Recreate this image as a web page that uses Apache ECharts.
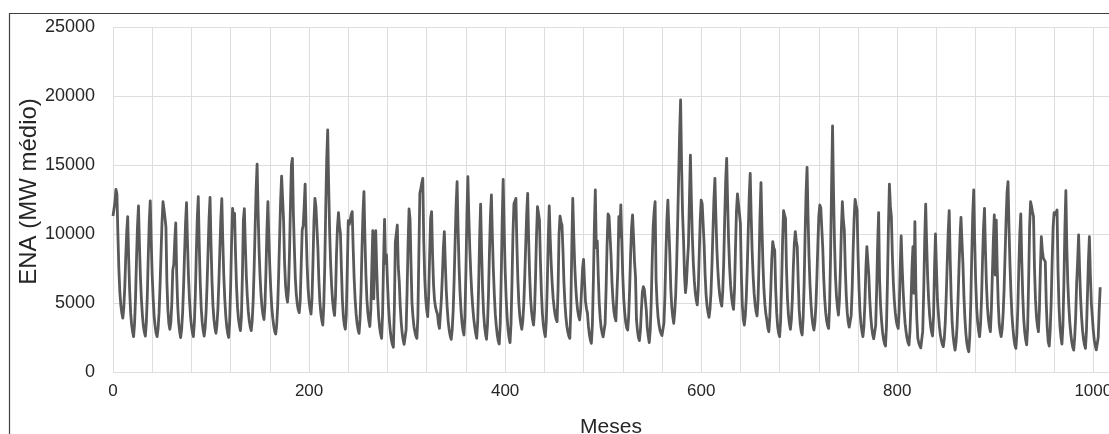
<!DOCTYPE html>
<html>
<head>
<meta charset="utf-8">
<script src="https://cdn.jsdelivr.net/npm/echarts@6/dist/echarts.min.js"></script>
<style>
html,body{margin:0;padding:0;background:#fff;}
#chart{width:1109px;height:434px;}
</style>
</head>
<body>
<div id="chart"></div>
<script>
// Monthly ENA (MW médio), one row = 12 consecutive months
const enaMonthly = [
11300,11400,12300,13240,12900,10000,7450,5770,4830,4270,3900,4640,
6110,8320,10160,11260,8220,5870,4300,3430,2910,2560,3510,5400,
8240,10610,12030,9200,6840,5240,4110,3350,2880,2600,3580,5540,
8480,10930,12400,9450,6990,5300,4000,3300,2800,2560,3150,4320,
6280,8620,10870,12340,11800,11200,10500,6500,4500,3500,3100,3600,
5000,7400,7800,9500,10800,7070,4820,3580,2920,2500,3090,4260,
6210,8560,10800,12270,9360,6930,5280,4110,3340,2850,2560,3570,
5600,8640,11180,12700,9170,6440,4620,3610,3000,2600,3200,4410,
6420,8840,11150,12660,9210,6550,4770,3790,3190,2800,3390,4560,
6510,8850,11100,12560,9540,7030,5320,4110,3300,2800,2500,3620,
6240,9520,11860,11200,11500,8530,6230,4700,3850,3340,3000,4000,
7000,11000,11840,9190,6980,5480,4410,3710,3270,3000,3720,5170,
7590,10480,13260,15070,11690,8870,6960,5600,4700,4140,3800,4820,
7220,10200,12340,9650,7550,5920,4670,3900,3330,2940,2750,3440,
4810,7100,9850,12480,14200,14300,11000,8000,6300,5500,5070,6000,
8500,12000,15000,15480,11500,9000,6800,5600,4900,4500,4300,5200,
7800,10300,10600,12000,13620,10320,7780,6080,5140,4580,4200,5300,
8000,11000,12580,12000,12000,9000,6670,5120,4260,3740,3400,4810,
7640,11880,15420,17540,13510,10150,7860,6250,5180,4500,4100,5500,
8600,10500,11550,10600,10050,7500,5200,4000,3400,3100,4200,7500,
10970,10700,11000,11400,11620,8970,6770,5270,4210,3510,3060,2800,
3830,5880,8960,11530,13070,9650,7010,5250,4280,3690,3300,4500,
7500,10240,5300,8500,10240,7510,5400,4000,3220,2750,2440,4200,
8000,11060,7870,8500,6490,4810,3670,2860,2330,2000,1790,4500,
9440,10000,10650,7630,6550,4800,3600,2800,2300,2000,1880,3070,
5850,9330,11810,11100,7800,5000,4000,3300,2900,2600,2440,4000,
8500,12950,13300,13700,14030,9520,6820,5310,4510,4010,5500,8500,
11140,11620,8500,6300,5200,4700,4400,4200,3500,3160,4200,5340,
7000,9000,10170,7830,5880,4550,3620,3000,2600,2370,3060,4430,
6710,9450,12080,13790,10460,7680,5790,4460,3570,3010,2680,4060,
7270,11280,14150,11220,8880,7120,5720,4660,3850,3260,2790,2440,
3610,6330,9740,12170,8740,6090,4330,3350,2760,2370,3420,5510,
8650,11260,12830,9810,7430,5590,4190,3330,2680,2250,2030,3460,
6800,10980,13960,10410,7450,5440,4020,3080,2480,2130,3500,6500,
10000,12200,12300,12580,9260,6700,4990,4040,3470,3090,3680,4860,
6840,9200,11470,12950,9610,7030,5310,4360,3780,3400,4430,6830,
9840,11980,11500,11010,8050,5770,4250,3410,2900,2560,3700,6350,
9660,12030,9680,7840,6420,5330,4660,4150,3820,3650,6000,10000,
11300,10900,10650,8800,6500,5000,4000,3300,2900,2600,2440,4500,
9000,12580,9940,7730,6240,5180,4470,4030,3770,4500,6000,7500,
8160,6500,5100,4600,4250,3300,2700,2300,2080,3410,6520,10410,
13190,9000,9500,7000,5000,3900,3200,2800,2550,2440,3520,6040,
9200,11450,11300,11260,8500,6500,5200,4400,3950,3700,3650,7500,
11260,9800,12100,9500,7000,5300,4300,3600,3200,3040,4000,6000,
8500,10500,11380,9800,8000,6900,3770,3000,2500,2270,3000,4500,
5800,6180,6000,5940,4500,3200,2600,2130,3000,5000,8000,10500,
11620,12340,6670,5000,4000,3400,3000,2800,2650,2560,3550,5530,
8500,10980,12460,12580,8510,6060,4710,4000,3530,4340,5630,7900,
10810,14050,17280,19710,15000,11500,9570,7000,5750,6500,8000,9200,
12500,15720,12460,9750,7900,6600,5730,5190,4860,6000,8500,11000,
12460,12200,12100,9250,7050,5590,4770,4290,3960,4560,5770,7790,
10200,12520,14030,11260,8940,7370,6260,5520,5060,4780,5850,7990,
11200,13880,15480,12200,9460,7600,6290,5420,4870,4540,6000,9000,
11700,12900,12830,11500,10770,7000,4800,3800,3400,4060,5380,7580,
10220,12750,14400,11300,8710,6950,5710,4890,4370,4060,5220,7920,
11310,13720,10500,7800,6000,4900,4200,3770,3200,2920,4000,6000,
8200,9440,9000,8840,6000,4300,3300,2800,2560,3660,6210,9410,
11690,11400,11140,7520,5340,4140,3490,3090,3800,5300,7600,9300,
10170,9500,9080,6500,4500,3500,2950,2680,3900,6330,9970,13010,
14830,11290,8350,6340,4930,3980,3390,3040,3600,4800,6800,9200,
11300,12100,11900,11980,9000,6800,5300,4300,3700,3350,3160,4800,
8500,13500,17830,13040,9340,6870,5500,4680,4130,5200,7400,10300,
12340,11000,10300,7500,5500,4300,3600,3250,3160,4100,5970,8770,
11110,12510,12100,11740,8530,6050,4400,3480,2930,2560,3300,5000,
7500,9080,9100,7000,5200,4000,3200,2700,2400,2270,3380,5980,
9230,11550,6670,4800,3700,2900,2400,2050,1880,3300,6500,10500,
13620,12000,11260,8500,6500,5200,4300,3700,3350,3160,4500,7500,
9860,7650,5910,4570,3540,2910,2430,2120,1960,3000,5000,7500,
9080,5700,10890,6000,3800,2440,2100,1900,1750,1710,2960,5890,
9560,12170,9300,6910,5290,4140,3370,2900,2610,4000,7500,10000,
7500,5220,4200,3300,2700,2300,2000,1840,2430,3610,5580,7950,
10210,11690,8160,5430,3610,2600,2000,1590,2170,3320,5250,7550,
9770,11210,9500,7870,5500,3900,2800,2100,1700,1470,2640,4990,
8500,11430,13190,9470,6600,4690,3620,2990,2560,3490,5350,8140,
10470,11860,8730,6320,4710,3810,3280,2920,4500,7000,9500,11380,
7030,11010,7500,5000,3500,2900,2560,3100,4200,6000,8500,11000,
13000,13790,10410,7750,5700,4130,3160,2430,1950,1710,2680,4630,
7550,9990,11450,8130,5570,3860,2910,2340,1960,3200,6500,10500,
12340,12000,11600,11260,7510,5260,4000,3340,2920,4500,7500,9810,
8800,8240,8100,8000,5000,3200,2200,1880,3000,5000,8000,10500,
11550,11400,11500,11740,7370,4750,3290,2520,2030,3360,6470,10360,
13140,9000,6430,4800,3600,2800,2200,1800,1590,2500,4000,6430,
8000,9930,7460,5410,4010,3030,2370,1960,1710,3000,5500,8000,
9810,7000,4980,4000,3000,2300,1900,1600,1470,2500,4500,6140
];
const xLabelValues = [0, 200, 400, 600, 800, 1000];
const yTicks = [0, 5000, 10000, 15000, 20000, 25000];
const xTitle = 'Meses';
const yTitle = 'ENA (MW médio)';

const seriesData = enaMonthly.map((v, i) => [i, v]);

const chart = echarts.init(document.getElementById('chart'), null, {renderer: 'canvas'});
const font = 'Liberation Sans, Arial, sans-serif';
chart.setOption({
  animation: false,
  backgroundColor: '#ffffff',
  grid: {left: 113, top: 27, width: 996, bottom: 62, containLabel: false, outerBoundsMode: 'none'},
  graphic: [{
    type: 'rect', silent: true, z: 0,
    shape: {x: 9.5, y: 13.5, width: 1200, height: 600},
    style: {fill: 'none', stroke: '#404040', lineWidth: 1.2}
  }],
  xAxis: {
    type: 'value', min: 0, max: 1016, interval: 40,
    name: xTitle, nameLocation: 'middle', nameGap: 45,
    nameTextStyle: {fontFamily: font, fontSize: 21, color: '#262626'},
    axisLine: {show: false}, axisTick: {show: false},
    axisLabel: {
      fontFamily: font, fontSize: 17, color: '#262626', margin: 11,
      showMaxLabel: false, hideOverlap: false,
      formatter: v => xLabelValues.includes(v) ? String(v) : ''
    },
    splitLine: {show: true, lineStyle: {color: '#dedede', width: 1}}
  },
  yAxis: {
    type: 'value', min: yTicks[0], max: yTicks[yTicks.length - 1], interval: 5000,
    name: yTitle, nameLocation: 'middle', nameGap: 72, nameRotate: 90, nameMoveOverlap: false,
    nameTextStyle: {fontFamily: font, fontSize: 24, color: '#262626', padding: [0, 0, 0, 16]},
    axisLine: {show: false}, axisTick: {show: false},
    axisLabel: {fontFamily: font, fontSize: 18, color: '#262626', margin: 18,
      formatter: v => String(v)},
    splitLine: {show: true, lineStyle: {color: '#dedede', width: 1}}
  },
  series: [{
    type: 'line', data: seriesData, showSymbol: false, symbol: 'none',
    lineStyle: {color: '#595959', width: 2.8, join: 'round'},
    clip: true
  }]
});
</script>
</body>
</html>
